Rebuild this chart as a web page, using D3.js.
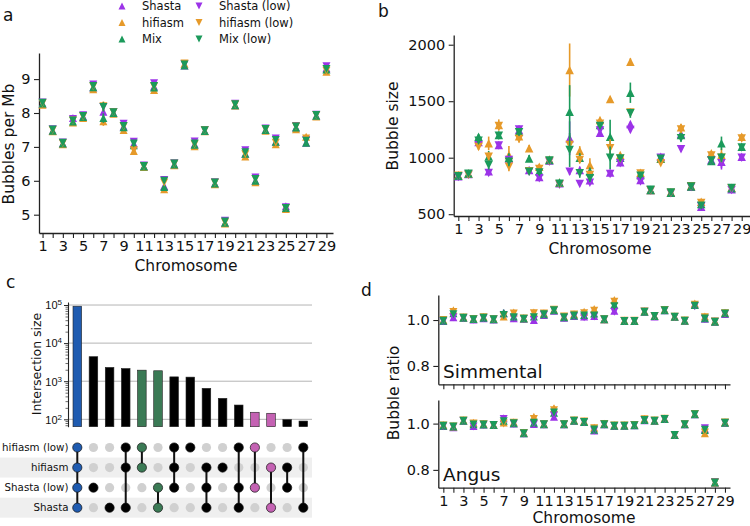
<!DOCTYPE html>
<html><head><meta charset="utf-8">
<script src="https://cdn.jsdelivr.net/npm/d3@7"></script>
<style>body{margin:0;background:#fff}svg{font-family:"DejaVu Sans",sans-serif}</style>
</head><body><svg id="c" width="750" height="526"></svg>
<script>
// ---------------- DATA ----------------
const chromosomes = [1,2,3,4,5,6,7,8,9,10,11,12,13,14,15,16,17,18,19,20,21,22,23,24,25,26,27,28,29];
const chromTickLabels = [1,3,5,7,9,11,13,15,17,19,21,23,25,27,29];
const seriesNames = ["Shasta","hifiasm","Mix","Shasta (low)","hifiasm (low)","Mix (low)"];
const seriesColors = ["#9C33E8","#E69A2A","#1B9A5B","#9C33E8","#E69A2A","#1B9A5B"];
const seriesUp = [true,true,true,false,false,false];

// panel a: bubbles per Mb
const aShasta     = [8.27,7.48,7.10,7.85,7.90,8.75,8.04,8.00,7.60,7.10,6.42,8.78,5.85,6.48,9.40,7.08,7.47,5.92,4.76,8.23,6.80,6.00,7.50,7.15,5.25,7.57,7.12,7.92,9.32];
const aHifiasm    = [8.24,7.46,7.08,7.72,7.85,8.70,7.76,7.98,7.50,6.88,6.41,8.68,5.75,6.46,9.45,7.02,7.46,5.90,4.74,8.22,6.72,5.96,7.48,7.08,5.17,7.52,7.30,7.90,9.22];
const aMix        = [8.28,7.48,7.10,7.75,7.88,8.76,7.85,8.00,7.58,7.05,6.42,8.75,5.82,6.48,9.40,7.06,7.47,5.92,4.76,8.23,6.80,6.00,7.50,7.15,5.20,7.57,7.12,7.92,9.28];
const aShastaLow  = [8.31,7.52,7.13,7.82,7.93,8.84,8.18,8.03,7.68,7.15,6.45,8.88,6.02,6.52,9.44,7.16,7.50,5.96,4.82,8.27,6.90,6.10,7.54,7.25,5.22,7.62,7.20,7.95,9.38];
const aHifiasmLow = [8.29,7.50,7.11,7.78,7.90,8.78,8.20,8.02,7.60,6.90,6.43,8.78,5.95,6.50,9.46,7.08,7.49,5.94,4.78,8.25,6.78,6.05,7.52,7.12,5.20,7.60,7.25,7.94,9.25];
const aMixLow     = [8.30,7.51,7.12,7.78,7.91,8.80,8.18,8.02,7.62,7.10,6.44,8.80,6.00,6.51,9.43,7.10,7.49,5.95,4.80,8.26,6.84,6.05,7.53,7.20,5.20,7.60,7.18,7.94,9.30];
const aErr        = [0.03,0.03,0.03,0.04,0.03,0.03,0.14,0.03,0.03,0.03,0.03,0.03,0.04,0.03,0.03,0.03,0.03,0.03,0.03,0.03,0.03,0.03,0.03,0.03,0.03,0.03,0.04,0.03,0.03];

// panel b: bubble size
const bShasta     = [835,855,1140,880,1112,994,1245,891,830,975,773,1172,891,800,1221,870,960,1298,803,714,1009,690,1210,743,566,980,965,720,1009];
const bHifiasm    = [845,860,1170,1127,1289,1024,1190,1083,920,985,780,1776,1062,935,1334,1519,1024,1850,867,714,990,695,1269,750,611,1039,1024,735,1186];
const bMix        = [840,860,1185,1010,1200,1000,1230,994,880,980,780,1407,1000,880,1289,1186,1000,1575,847,714,994,690,1200,745,590,970,1127,729,1097];
const bShastaLow  = [830,850,1110,865,1108,980,1250,875,818,965,760,876,767,779,1240,855,950,1245,790,710,1000,685,1074,740,570,975,950,715,1000];
const bHifiasmLow = [840,850,1095,1009,1280,920,1165,880,900,970,765,1112,980,847,1300,1083,990,1400,860,712,950,690,1250,748,600,1020,1000,730,1170];
const bMixLow     = [835,858,1150,935,1195,965,1225,876,870,975,770,1068,862,818,1280,1000,994,1393,840,716,990,692,1172,745,575,975,1000,732,1090];
const bErrShasta     = [10,10,20,20,15,20,40,15,15,10,10,150,30,20,20,20,15,20,15,8,15,8,20,10,10,15,70,10,20];
const bErrHifiasm    = [10,10,25,60,50,80,40,30,20,10,10,235,40,60,20,20,20,30,15,8,15,8,30,10,10,20,60,10,25];
const bErrMix        = [10,10,25,50,30,40,30,30,20,10,10,235,40,30,20,150,20,90,15,8,15,8,30,10,10,20,60,10,25];
const bErrShastaLow  = [10,10,20,20,15,20,30,15,15,10,10,30,20,20,20,20,15,20,15,8,15,8,20,10,10,15,40,10,20];
const bErrHifiasmLow = [10,10,25,40,30,40,30,20,20,10,10,60,30,30,20,80,20,30,15,8,15,8,30,10,10,20,40,10,25];
const bErrMixLow     = [10,10,25,40,30,40,30,20,20,10,10,150,40,30,20,100,20,40,15,8,15,8,30,10,10,20,40,10,25];

// panel c: upset
const upsetSets = ["hifiasm (low)","hifiasm","Shasta (low)","Shasta"];
const upsetMembers = [
  [1,1,1,1],[0,0,1,0],[0,0,0,1],[1,1,0,1],[1,1,0,0],[0,0,1,1],[1,1,1,0],[1,0,0,0],
  [0,1,1,1],[0,1,0,0],[1,0,1,1],[1,0,1,0],[0,1,0,1],[0,1,1,0],[1,0,0,1]];
const upsetSizes = [93000,4400,2300,2150,1950,1880,1300,1280,650,355,237,153,144,98,90];
const upsetColors = ["#1f5bb0","#000","#000","#000","#3b7a55","#3b7a55","#000","#000","#000","#000","#000","#c462b3","#c462b3","#000","#000"];
const upsetTicks = [100,1000,10000,100000];

// panel d: bubble ratio
const dsShasta     = [0.996,1.012,1.010,1.002,1.008,1.002,1.030,1.008,1.005,1.000,1.022,1.040,1.010,1.018,1.015,1.018,1.003,1.040,0.996,0.996,1.036,1.015,1.043,1.014,0.997,1.068,1.005,0.993,1.026];
const dsHifiasm    = [1.000,1.043,1.012,1.005,1.013,1.004,1.015,1.033,1.008,1.033,1.030,1.045,1.015,1.025,1.036,1.048,1.003,1.087,0.998,0.997,1.038,1.018,1.045,1.015,0.998,1.072,1.015,0.995,1.032];
const dsMix        = [0.997,1.030,1.010,1.004,1.010,1.003,1.030,1.015,1.007,1.015,1.025,1.043,1.012,1.020,1.022,1.028,1.003,1.067,0.996,0.996,1.036,1.017,1.043,1.014,0.997,1.065,1.008,0.993,1.029];
const dsShastaLow  = [0.995,1.012,1.008,1.002,1.008,1.002,1.022,1.008,1.004,1.000,1.022,1.043,1.010,1.016,1.012,1.015,1.002,1.036,0.996,0.996,1.036,1.016,1.043,1.013,0.996,1.060,1.005,0.993,1.026];
const dsHifiasmLow = [1.000,1.035,1.011,1.004,1.012,1.003,1.018,1.028,1.007,1.030,1.028,1.045,1.015,1.024,1.030,1.040,1.003,1.080,0.997,0.997,1.037,1.017,1.044,1.014,0.998,1.066,1.012,0.994,1.030];
const dsMixLow     = [0.997,1.025,1.010,1.003,1.010,1.003,1.022,1.012,1.006,1.012,1.025,1.043,1.012,1.020,1.020,1.020,1.003,1.060,0.996,0.996,1.036,1.017,1.043,1.014,0.997,1.062,1.007,0.993,1.028];
const dsErr        = [0.004,0.005,0.004,0.004,0.004,0.004,0.015,0.005,0.004,0.005,0.004,0.004,0.004,0.004,0.005,0.005,0.004,0.006,0.003,0.003,0.003,0.003,0.003,0.003,0.003,0.005,0.004,0.003,0.004];
const daShasta     = [0.990,0.984,1.012,0.990,0.996,0.994,1.023,1.000,0.958,0.998,0.997,1.030,0.997,1.012,1.007,0.970,0.997,0.990,0.991,0.993,1.015,1.012,1.020,0.951,0.997,1.040,0.978,0.745,1.004];
const daHifiasm    = [0.994,0.988,1.014,1.004,0.998,0.995,1.005,1.006,0.960,1.030,0.998,1.066,0.998,1.014,1.010,0.982,0.999,0.993,0.993,0.994,1.020,1.013,1.022,0.952,0.998,1.042,0.958,0.745,1.006];
const daMix        = [0.991,0.987,1.012,0.997,0.996,0.994,1.012,1.001,0.958,1.004,0.997,1.047,0.997,1.012,1.007,0.973,0.997,0.991,0.991,0.993,1.016,1.012,1.020,0.951,0.997,1.040,0.972,0.745,1.004];
const daShastaLow  = [0.989,0.985,1.011,0.988,0.995,0.993,1.020,0.999,0.957,0.997,0.996,1.035,0.996,1.011,1.006,0.970,0.996,0.990,0.990,0.993,1.015,1.011,1.019,0.950,0.996,1.041,0.980,0.748,1.003];
const daHifiasmLow = [0.992,0.987,1.013,1.000,0.997,0.994,1.000,1.004,0.959,1.020,0.997,1.058,0.997,1.013,1.009,0.980,0.998,0.992,0.992,0.994,1.019,1.013,1.021,0.951,0.997,1.042,0.962,0.746,1.005];
const daMixLow     = [0.991,0.987,1.012,0.996,0.996,0.994,1.010,1.001,0.958,1.004,0.997,1.048,0.997,1.012,1.007,0.974,0.997,0.991,0.991,0.993,1.016,1.012,1.020,0.951,0.997,1.040,0.973,0.745,1.004];
const daErr        = [0.004,0.004,0.004,0.006,0.004,0.004,0.008,0.005,0.004,0.006,0.004,0.012,0.004,0.004,0.004,0.006,0.004,0.004,0.004,0.003,0.004,0.003,0.003,0.004,0.003,0.004,0.008,0.004,0.004];
const dPanelNames = ["Simmental","Angus"];

// ---------------- DRAW ----------------
const svg = d3.select("#c");
const TICK_FS = "14.5px", LABEL_FS = "15.5px";

function triPath(up, w, h) {
  return up ? `M0,${-h/2}L${w/2},${h/2}L${-w/2},${h/2}Z`
            : `M0,${h/2}L${w/2},${-h/2}L${-w/2},${-h/2}Z`;
}
function styleAxis(g, fs) {
  g.select(".domain").attr("stroke","#222").attr("stroke-width",1.3);
  g.selectAll(".tick line").attr("stroke","#222").attr("stroke-width",1.1);
  g.selectAll(".tick text").attr("font-size",fs).attr("fill","#111").attr("font-family","DejaVu Sans");
}
function drawSeries(g, x, y, seriesVals, seriesErrs, w) {
  seriesVals.forEach((vals, i) => {
    const col = seriesColors[i];
    const gg = g.append("g");
    chromosomes.forEach((c, j) => {
      const v = vals[j], e = seriesErrs[i][j];
      if (e > 0) gg.append("line").attr("x1",x(c)).attr("x2",x(c))
        .attr("y1",y(v-e)).attr("y2",y(v+e)).attr("stroke",col).attr("stroke-width",1.6);
      gg.append("path").attr("d",triPath(seriesUp[i], w, w))
        .attr("transform",`translate(${x(c)},${y(v)})`).attr("fill",col);
    });
  });
}
function chromAxes(g, x, y, yTicks, yFmt, bottomY, leftX, showLabels) {
  const xa = g.append("g").attr("transform",`translate(0,${bottomY})`)
    .call(d3.axisBottom(x).tickValues(chromosomes).tickSize(5).tickSizeOuter(0).tickPadding(3)
      .tickFormat(d => showLabels && chromTickLabels.includes(d) ? d : ""));
  styleAxis(xa, TICK_FS);
  const ya = g.append("g").attr("transform",`translate(${leftX},0)`)
    .call(d3.axisLeft(y).tickValues(yTicks).tickSize(5).tickSizeOuter(0).tickPadding(3.5).tickFormat(yFmt));
  styleAxis(ya, TICK_FS);
}
function label(t, x, y, fs, rot, anchor) {
  const el = svg.append("text").text(t).attr("font-size",fs).attr("fill","#111")
    .attr("text-anchor",anchor || "middle");
  if (rot) el.attr("transform",`translate(${x},${y}) rotate(-90)`);
  else el.attr("x",x).attr("y",y);
  return el;
}

// ---- panel a ----
{
  const x = d3.scaleLinear().domain([0.65, 29.65]).range([39, 333]);
  const y = d3.scaleLinear().domain([4.46, 9.77]).range([233, 53]);
  const g = svg.append("g");
  chromAxes(g, x, y, [5,6,7,8,9], d3.format("d"), 233, 39, true);
  drawSeries(g, x, y, [aShasta,aHifiasm,aMix,aShastaLow,aHifiasmLow,aMixLow],
    [aErr,aErr,aErr,aErr,aErr,aErr], 8);
  label("Chromosome", 186, 271, LABEL_FS);
  label("Bubbles per Mb", 14, 144, LABEL_FS, true);
  label("a", 3, 20.5, "17px", false, "start");
  // legend
  const leg = svg.append("g");
  seriesNames.forEach((n, i) => {
    const col = Math.floor(i/3), row = i % 3;
    const mx = col ? 199 : 122, by = 10 + row*16.5;
    leg.append("path").attr("d",triPath(seriesUp[i],7,7))
      .attr("transform",`translate(${mx},${by-4})`).attr("fill",seriesColors[i]);
    leg.append("text").text(n).attr("x",mx+20).attr("y",by)
      .attr("font-size","11.5px").attr("fill","#111");
  });
}

// ---- panel b ----
{
  const x = d3.scaleLinear().domain([0.545, 29.8]).range([453.7, 749.8]);
  const y = d3.scaleLinear().domain([484, 2086]).range([216, 35]);
  const g = svg.append("g");
  chromAxes(g, x, y, [500,1000,1500,2000], d3.format("d"), 216, 453.7, true);
  drawSeries(g, x, y, [bShasta,bHifiasm,bMix,bShastaLow,bHifiasmLow,bMixLow],
    [bErrShasta,bErrHifiasm,bErrMix,bErrShastaLow,bErrHifiasmLow,bErrMixLow], 8.5);
  label("Chromosome", 600, 254, LABEL_FS);
  label("Bubble size", 398, 126, LABEL_FS, true);
  label("b", 378, 16.5, "17px", false, "start");
}

// ---- panel c ----
{
  const xs = d3.scalePoint().domain(d3.range(upsetSizes.length)).range([77.3, 303.3]);
  const y = d3.scaleLog().domain([64, 120000]).range([426.7, 302]);
  const rowY = d3.scalePoint().domain(upsetSets).range([447.5, 507.7]);
  const g = svg.append("g");
  // row shading
  [1,3].forEach(i => g.append("rect").attr("x",0).attr("width",312)
    .attr("y",rowY(upsetSets[i])-10).attr("height",20).attr("fill","#efefef"));
  // gridlines
  upsetTicks.forEach(t => g.append("line").attr("x1",68).attr("x2",312)
    .attr("y1",y(t)).attr("y2",y(t)).attr("stroke","#b4b4b4").attr("stroke-width",1));
  // bars
  g.selectAll("rect.bar").data(upsetSizes).join("rect").attr("class","bar")
    .attr("x",(d,i)=>xs(i)-4.3).attr("width",8.6)
    .attr("y",d=>y(d)).attr("height",d=>y.range()[0]-y(d))
    .attr("fill",(d,i)=>upsetColors[i]).attr("stroke","#222").attr("stroke-width",0.6);
  // axis
  const minor = [];
  [10,100,1000,10000].forEach(k => [2,3,4,5,6,7,8,9].forEach(m => { const v=k*m; if (v>=64 && v<=120000) minor.push(v); }));
  g.append("g").attr("transform","translate(68,0)")
    .call(d3.axisLeft(y).tickValues(minor).tickSize(2.5).tickSizeOuter(0).tickFormat(""))
    .call(a => { a.select(".domain").attr("stroke","#222").attr("stroke-width",1.1); a.selectAll(".tick line").attr("stroke","#444").attr("stroke-width",0.8); });
  const ya = g.append("g").attr("transform","translate(68,0)")
    .call(d3.axisLeft(y).tickValues(upsetTicks).tickSize(4).tickSizeOuter(0).tickPadding(2).tickFormat(""));
  ya.select(".domain").remove();
  ya.selectAll(".tick line").attr("stroke","#222").attr("stroke-width",1);
  ya.selectAll(".tick").append("text").attr("x",-6).attr("dy","0.35em").attr("text-anchor","end")
    .attr("font-size","11px").attr("fill","#111")
    .each(function(d){ const t=d3.select(this); t.append("tspan").text("10");
      t.append("tspan").text(Math.round(Math.log10(d))).attr("font-size","8px").attr("dy","-0.5em"); });
  label("Intersection size", 41, 364, "12.5px", true);
  // matrix
  upsetSets.forEach(s => g.append("text").text(s).attr("x",68.5).attr("y",rowY(s)).attr("dy","0.35em")
    .attr("text-anchor","end").attr("font-size","10.3px").attr("fill","#111"));
  upsetMembers.forEach((mem, i) => {
    const on = upsetSets.filter((s,k)=>mem[k]);
    const col = upsetColors[i];
    upsetSets.forEach((s,k) => { if (!mem[k]) g.append("circle").attr("cx",xs(i)).attr("cy",rowY(s)).attr("r",4.6).attr("fill","#d0d0d0"); });
    if (on.length > 1) g.append("line").attr("x1",xs(i)).attr("x2",xs(i))
      .attr("y1",rowY(on[0])).attr("y2",rowY(on[on.length-1])).attr("stroke","#111").attr("stroke-width",2);
    on.forEach(s => g.append("circle").attr("cx",xs(i)).attr("cy",rowY(s)).attr("r",4.6)
      .attr("fill",col).attr("stroke","#111").attr("stroke-width",0.7));
  });
  label("c", 6, 288, "17px", false, "start");
}

// ---- panel d ----
{
  const x = d3.scaleLinear().domain([0.5, 29.5]).range([438.3, 730]);
  const specs = [
    {vals:[dsShasta,dsHifiasm,dsMix,dsShastaLow,dsHifiasmLow,dsMixLow], err:dsErr, dom:[0.72,1.109], rng:[384.3,295], lab:false},
    {vals:[daShasta,daHifiasm,daMix,daShastaLow,daHifiasmLow,daMixLow], err:daErr, dom:[0.723,1.102], rng:[487.7,400], lab:true}];
  specs.forEach((sp, k) => {
    const y = d3.scaleLinear().domain(sp.dom).range(sp.rng);
    const g = svg.append("g");
    chromAxes(g, x, y, [0.8,1.0], d3.format(".1f"), sp.rng[0], 438.3, sp.lab);
    drawSeries(g, x, y, sp.vals, [sp.err,sp.err,sp.err,sp.err,sp.err,sp.err], 8);
    label(dPanelNames[k], 443, sp.rng[0]-6.5, "18.5px", false, "start");
  });
  label("Chromosome", 584, 522.5, LABEL_FS);
  label("Bubble ratio", 399, 393, LABEL_FS, true);
  label("d", 361, 296, "17px", false, "start");
}
</script></body></html>
